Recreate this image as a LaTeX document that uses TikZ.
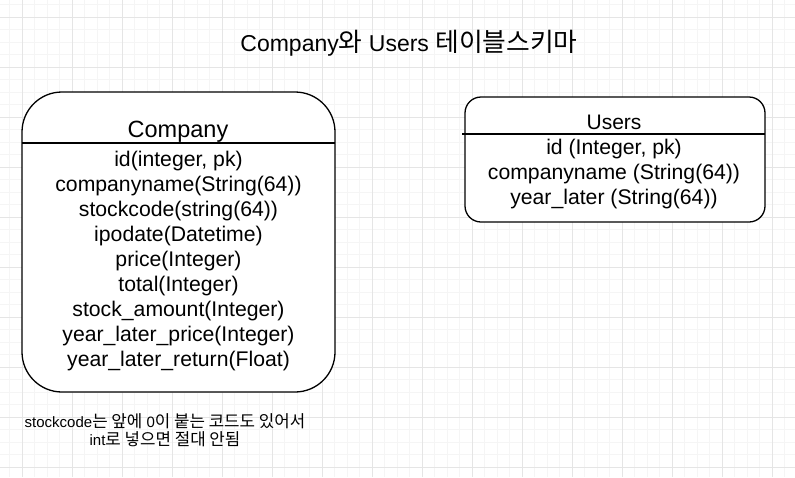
\documentclass[tikz,border=0pt]{standalone}
\usepackage{fontspec}
\setmainfont{Liberation Sans}
\newfontfamily\kr[Scale=1.12]{Noto Sans CJK KR}
\usepackage{tikz}

\begin{document}
\begin{tikzpicture}[x=1pt, y=-1pt,
    minorgrid/.style={draw=black!4, line width=0.8pt},
    majorgrid/.style={draw=black!10, line width=0.9pt},
    tablebox/.style={line width=1.3pt},
    header/.style={font=\fontsize{21}{25}\selectfont},
    fields/.style={align=center, inner sep=0pt, font=\fontsize{21.2}{25}\selectfont}]
    \useasboundingbox (0,0) rectangle (795,477);
    \fill[white] (0,0) rectangle (795,477);

    % background grid
    \foreach \i in {0,...,62} \draw[minorgrid] ({9.5+12.5*\i},0) -- ({9.5+12.5*\i},477);
    \foreach \i in {0,...,37} \draw[minorgrid] (0,{4.5+12.5*\i}) -- (795,{4.5+12.5*\i});
    \foreach \i in {0,...,15} \draw[majorgrid] ({22+50*\i},0) -- ({22+50*\i},477);
    \foreach \i in {0,...,9} \draw[majorgrid] (0,{17+50*\i}) -- (795,{17+50*\i});

    \node[font=\fontsize{23}{27}\selectfont] at (409, 43) (title) {Company{\kr 와} Users {\kr 테이블스키마}};

    % Company table
    \draw[tablebox, rounded corners=40, fill=white] (22,92) rectangle (335,392);
    \draw[tablebox] (22,143) -- (335,143);
    \node[font=\fontsize{23.5}{27}\selectfont] at (178, 132) (company) {Company};
    \node[fields] at (178.5, 261) (companyfields) {id(integer, pk)\\ companyname(String(64))\\ stockcode(string(64))\\ ipodate(Datetime)\\ price(Integer)\\ total(Integer)\\ stock\_amount(Integer)\\ year\_later\_price(Integer)\\ year\_later\_return(Float)};

    % Users table
    \draw[tablebox, rounded corners=16, fill=white] (465,97) rectangle (765,222);
    \draw[tablebox] (462,134) -- (765,134);
    \node[header] at (614, 122) (users) {Users};
    \node[fields] at (614, 174) (usersfields) {id (Integer, pk)\\ companyname (String(64))\\ year\_later (String(64))};

    \node[align=center, inner sep=0pt, font=\fontsize{15}{17.5}\selectfont] at (165, 430) (note) {stockcode{\kr 는 앞에} 0{\kr 이 붙는 코드도 있어서}\\ int{\kr 로 넣으면 절대 안됨}};
\end{tikzpicture}
\end{document}
